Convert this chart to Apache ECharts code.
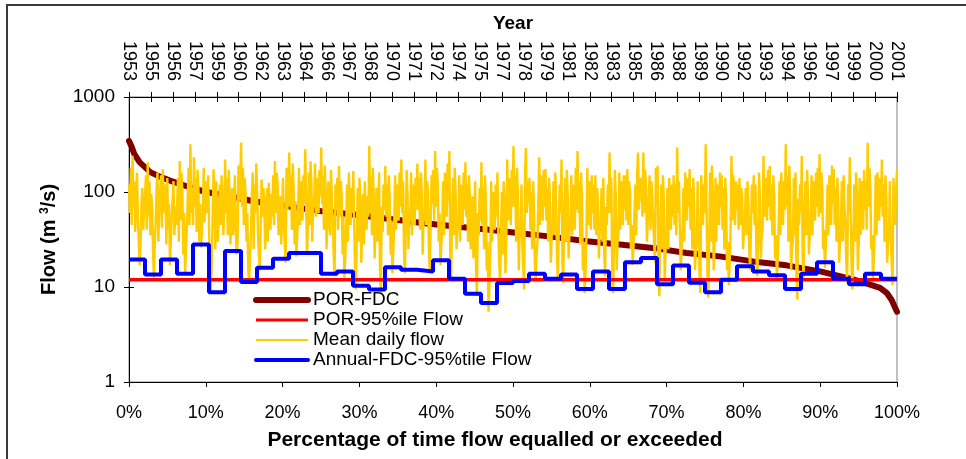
<!DOCTYPE html>
<html>
<head>
<meta charset="utf-8">
<script src="https://cdn.jsdelivr.net/npm/echarts@6/dist/echarts.min.js"></script>
<style>
  html, body { margin: 0; padding: 0; background: #fff; }
  #chart { width: 966px; height: 459px; }
</style>
</head>
<body>
<div id="chart"></div>
<script>
// Year labels on the upper (time) axis, one per tick
const yearLabels = [1953, 1955, 1956, 1957, 1959, 1960, 1962, 1963, 1964, 1966, 1967, 1968,
  1970, 1971, 1972, 1974, 1975, 1977, 1978, 1979, 1981, 1982, 1983, 1985, 1986, 1988,
  1989, 1990, 1992, 1993, 1994, 1996, 1997, 1999, 2000, 2001];

// Period-of-record flow duration curve (percent exceedance, flow m3/s)
const fdcPercent = [0, 0.13, 0.35, 0.7, 1.4, 2.0, 2.77, 4, 5.34, 7.5, 9.6, 11.8, 14, 16.2, 20.5,
  24.9, 29.2, 32.7, 37.9, 42.2, 46.6, 50.9, 55.2, 59.6, 63.9, 68.2, 72.6, 76.9, 81.25, 85.6,
  90, 94.3, 96.5, 97.8, 98.7, 99.3, 99.7, 100];
const fdcFlow = [345, 330, 300, 250, 205, 185, 162, 145, 132, 115, 102, 94, 87, 80, 71,
  63, 58, 53.5, 47.5, 43.7, 40.3, 36.8, 33.7, 30.3, 28, 25.8, 22.8, 21, 18.6, 16.9,
  14.6, 12, 10.6, 9.8, 8.6, 7.3, 6.2, 5.5];

// 95th percentile exceedance flow for the whole record
const por95Flow = 11.9;

// Annual 95%tile flow, one value per water year
const annualFdc95 = [19.5, 13.5, 19.5, 13.8, 28, 8.8, 24, 11.3, 15.9, 19.8, 22.8, 22.8,
  13.8, 14.6, 10.3, 9.4, 16.1, 15.2, 14.6, 19.1, 12.2, 8.5, 6.8, 11.0,
  11.6, 13.8, 12.2, 13.5, 9.5, 14.6, 9.5, 18.2, 20.2, 10.7, 16.8, 11.1,
  8.8, 11.9, 16.5, 14.6, 13.3, 9.5, 13.8, 18.2, 12.2, 10.7, 13.8, 12.2];

// Mean daily flow, sampled through each water year (18 readings per year)
const meanDailyFlow = [
  120, 60, 180, 45, 240, 70, 130, 38, 95, 160, 52, 30, 17, 28, 75, 110, 40, 65,
  90, 150, 40, 206, 55, 130, 35, 95, 70, 24, 12.4, 30, 48, 110, 160, 30, 65, 100,
  150, 42, 173, 60, 120, 95, 28, 140, 40, 75, 17, 30, 55, 85, 130, 35, 70, 45,
  70, 140, 30, 212, 50, 160, 95, 22, 60, 13.5, 25, 40, 90, 180, 45, 318, 60, 110,
  45, 232, 70, 140, 38, 170, 110, 30, 75, 26, 40, 65, 180, 48, 130, 60, 90, 150,
  40, 12, 8.7, 18, 55, 173, 100, 25, 130, 70, 30, 30, 120, 45, 150, 80, 35, 60,
  220, 60, 140, 35, 170, 95, 28, 70, 110, 35, 60, 150, 40, 22, 30, 190, 80, 130,
  331, 70, 180, 45, 140, 100, 30, 60, 15, 11, 20, 38, 90, 160, 25, 120, 60, 200,
  100, 35, 22, 15, 45, 135, 55, 110, 80, 25, 60, 110, 30, 125, 70, 40, 95, 55,
  150, 45, 212, 60, 160, 120, 35, 75, 90, 28, 50, 140, 55, 28, 18, 180, 65, 100,
  260, 70, 150, 40, 200, 110, 28, 80, 21, 35, 60, 180, 45, 130, 95, 50, 150, 75,
  281, 80, 22, 40, 160, 45, 210, 120, 30, 85, 70, 200, 55, 140, 100, 60, 170, 90,
  294, 75, 150, 40, 190, 100, 25, 60, 130, 45, 35, 170, 85, 50, 22, 13, 120, 70,
  140, 40, 188, 55, 130, 90, 22, 55, 12.5, 20, 40, 120, 30, 160, 75, 45, 110, 60,
  166, 45, 16, 9.4, 35, 110, 30, 140, 80, 18, 40, 95, 28, 130, 60, 40, 90, 55,
  305, 60, 150, 35, 180, 90, 20, 45, 110, 30, 45, 160, 15, 8.6, 70, 38, 120, 65,
  188, 55, 120, 35, 150, 85, 22, 50, 14, 24, 45, 150, 40, 120, 90, 50, 160, 70,
  220, 60, 130, 24, 14, 40, 170, 95, 25, 55, 50, 160, 35, 120, 80, 45, 140, 65,
  200, 65, 140, 40, 160, 90, 22, 50, 55, 220, 45, 130, 100, 25, 14, 50, 150, 75,
  170, 50, 270, 70, 180, 120, 30, 60, 17, 28, 45, 130, 35, 160, 90, 55, 200, 80,
  270, 20, 11.5, 60, 140, 35, 180, 100, 25, 45, 40, 150, 30, 120, 80, 45, 160, 65,
  205, 55, 120, 30, 150, 90, 25, 40, 90, 20, 28, 130, 14, 8, 60, 35, 110, 50,
  205, 45, 110, 25, 150, 80, 15, 30, 5.5, 10, 22, 130, 30, 100, 70, 40, 120, 55,
  160, 40, 18, 10.5, 35, 100, 22, 130, 75, 14, 30, 220, 50, 140, 90, 45, 170, 70,
  305, 70, 150, 30, 180, 90, 15, 35, 40, 120, 28, 16, 9.4, 160, 290, 60, 130, 75,
  140, 40, 100, 25, 130, 80, 18, 12, 22, 30, 90, 232, 45, 150, 110, 50, 170, 70,
  175, 50, 110, 30, 140, 85, 18, 35, 40, 130, 35, 160, 75, 20, 11.5, 45, 120, 60,
  220, 18, 11, 55, 140, 30, 170, 90, 20, 40, 45, 150, 35, 120, 80, 40, 180, 65,
  270, 60, 130, 28, 160, 85, 15, 30, 8.6, 14, 35, 180, 45, 130, 95, 40, 150, 60,
  120, 40, 150, 35, 110, 80, 20, 40, 45, 110, 30, 140, 22, 13, 70, 45, 120, 60,
  260, 60, 140, 14, 8.6, 30, 170, 90, 15, 30, 35, 160, 40, 130, 85, 45, 150, 65,
  150, 50, 175, 45, 130, 100, 25, 45, 17, 28, 60, 120, 35, 160, 260, 65, 140, 80,
  140, 55, 260, 60, 170, 110, 30, 50, 50, 150, 40, 130, 90, 50, 30, 18, 180, 75,
  188, 14, 8, 45, 120, 25, 150, 80, 12, 25, 30, 110, 25, 140, 60, 40, 120, 55,
  150, 45, 120, 35, 294, 60, 130, 40, 15, 25, 40, 110, 30, 160, 80, 50, 140, 70,
  175, 40, 110, 25, 140, 80, 15, 25, 30, 130, 35, 15, 8.6, 150, 90, 45, 120, 60,
  318, 65, 14, 7.7, 35, 160, 30, 190, 100, 15, 30, 140, 30, 120, 80, 45, 160, 70,
  150, 40, 110, 25, 140, 85, 15, 30, 10.5, 18, 40, 239, 50, 150, 100, 45, 130, 65,
  120, 40, 140, 45, 110, 90, 25, 40, 50, 110, 35, 130, 75, 24, 15, 45, 120, 60,
  150, 45, 120, 22, 13, 30, 160, 90, 20, 35, 40, 239, 55, 140, 100, 50, 170, 70,
  188, 50, 120, 35, 150, 90, 20, 35, 12, 20, 45, 130, 35, 160, 80, 45, 130, 65,
  318, 70, 150, 30, 190, 100, 15, 25, 30, 140, 35, 160, 13, 7.4, 85, 45, 120, 60,
  239, 20, 12.5, 60, 130, 35, 170, 90, 22, 35, 45, 150, 35, 130, 80, 50, 160, 70,
  180, 55, 250, 60, 160, 110, 25, 40, 16, 26, 50, 120, 35, 150, 90, 45, 190, 75,
  175, 45, 110, 30, 140, 80, 18, 30, 40, 130, 30, 150, 70, 45, 18, 11, 120, 60,
  232, 55, 16, 9.4, 35, 120, 30, 160, 90, 15, 30, 140, 35, 130, 80, 40, 170, 65,
  130, 40, 330, 70, 180, 120, 25, 35, 11.5, 20, 40, 150, 35, 160, 90, 50, 140, 70,
  220, 55, 120, 30, 150, 85, 18, 30, 35, 130, 30, 18, 10.5, 140, 70, 45, 110, 170
];

const FONT = '"Liberation Sans", Arial, sans-serif';
const nYears = annualFdc95.length;

const fdcData = fdcPercent.map((p, i) => [p, fdcFlow[i]]);
const porData = [[0, por95Flow], [100, por95Flow]];
const dailyData = meanDailyFlow.map((v, j) => [j * nYears / (meanDailyFlow.length - 1), v]);
const annualData = annualFdc95.map((v, i) => [i, v]);
annualData.push([nYears, annualFdc95[nYears - 1]]);

const black = '#000';
const chart = echarts.init(document.getElementById('chart'), null, { renderer: 'canvas' });

chart.setOption({
  animation: false,
  backgroundColor: '#fff',
  textStyle: { fontFamily: FONT },
  grid: {
    left: 129, right: 69, top: 97, bottom: 77,
    show: true, borderColor: '#808080', borderWidth: 1, backgroundColor: '#fff'
  },
  graphic: [{
    type: 'rect', silent: true, z: -10,
    shape: { x: 7, y: 5, width: 1000, height: 500 },
    style: { fill: 'none', stroke: '#3a3a3a', lineWidth: 2 }
  }],
  legend: {
    orient: 'vertical', left: 253, top: 290, padding: 0,
    itemWidth: 52, itemHeight: 14, itemGap: 0,
    itemStyle: { opacity: 0 },
    textStyle: { fontSize: 19, color: black, fontFamily: FONT, lineHeight: 20 },
    data: [
      { name: 'POR-FDC', lineStyle: { width: 6, cap: 'round' } },
      { name: 'POR-95%ile Flow', lineStyle: { width: 3 } },
      { name: 'Mean daily flow', lineStyle: { width: 2 } },
      { name: 'Annual-FDC-95%tile Flow', lineStyle: { width: 4, cap: 'round' } }
    ]
  },
  xAxis: [
    {
      type: 'value', position: 'bottom', min: 0, max: 100, interval: 10,
      axisLine: { show: true, lineStyle: { color: black, width: 1 } },
      axisTick: { show: true, length: 5, lineStyle: { color: black } },
      splitLine: { show: false },
      axisLabel: { formatter: '{value}%', fontSize: 18, color: black, margin: 22, fontFamily: FONT },
      name: 'Percentage of time flow equalled or exceeded',
      nameLocation: 'middle', nameGap: 48,
      nameTextStyle: { fontSize: 21, fontWeight: 'bold', color: black, fontFamily: FONT, padding: [0, 36, 0, 0] }
    },
    {
      type: 'value', position: 'top', min: 0, max: yearLabels.length - 1, interval: 1,
      axisLine: { show: true, lineStyle: { color: black, width: 1 } },
      axisTick: { show: true, length: 5, lineStyle: { color: black } },
      splitLine: { show: false },
      axisLabel: {
        rotate: 90, fontSize: 18, color: black, margin: 16, fontFamily: FONT,
        formatter: v => yearLabels[v] === undefined ? '' : String(yearLabels[v])
      },
      name: 'Year', nameLocation: 'middle', nameGap: 62,
      nameTextStyle: { fontSize: 19, fontWeight: 'bold', color: black, fontFamily: FONT }
    },
    {
      type: 'value', position: 'top', min: 0, max: yearLabels.length - 1, interval: 1,
      axisLine: { show: false },
      axisTick: { show: true, inside: true, length: 5, lineStyle: { color: black } },
      axisLabel: { show: false }, splitLine: { show: false }
    },
    { type: 'value', position: 'top', min: 0, max: nYears, show: false }
  ],
  yAxis: [
    {
      type: 'log', logBase: 10, min: 1, max: 1000, position: 'left',
      axisLine: { show: true, lineStyle: { color: black, width: 1 } },
      axisTick: { show: true, length: 5, lineStyle: { color: black } },
      splitLine: { show: false },
      axisLabel: { fontSize: 19, color: black, margin: 14, fontFamily: FONT, formatter: v => String(v) },
      name: 'Flow (m {sup|3}/s)', nameLocation: 'middle', nameGap: 70,
      nameTextStyle: {
        fontSize: 20, fontWeight: 'bold', color: black, fontFamily: FONT,
        rich: { sup: { fontSize: 12, fontWeight: 'bold', color: black, verticalAlign: 'top', lineHeight: 12, padding: [0, 0, 8, 0] } }
      }
    },
    {
      type: 'log', logBase: 10, min: 1, max: 1000, position: 'left',
      axisLine: { show: false },
      axisTick: { show: true, inside: true, length: 5, lineStyle: { color: black } },
      axisLabel: { show: false }, splitLine: { show: false }
    }
  ],
  series: [
    {
      name: 'POR-FDC', type: 'line', xAxisIndex: 0, yAxisIndex: 0,
      data: fdcData, showSymbol: false, symbol: 'none',
      lineStyle: { color: '#800000', width: 6, cap: 'round' }, itemStyle: { color: '#800000' }
    },
    {
      name: 'Mean daily flow', type: 'line', xAxisIndex: 3, yAxisIndex: 0,
      data: dailyData, showSymbol: false, symbol: 'none',
      lineStyle: { color: '#FFCC00', width: 2.4 }, itemStyle: { color: '#FFCC00' }
    },
    {
      name: 'POR-95%ile Flow', type: 'line', xAxisIndex: 0, yAxisIndex: 0,
      data: porData, showSymbol: false, symbol: 'none',
      lineStyle: { color: '#FF0000', width: 3.5 }, itemStyle: { color: '#FF0000' }
    },
    {
      name: 'Annual-FDC-95%tile Flow', type: 'line', xAxisIndex: 3, yAxisIndex: 0,
      data: annualData, step: 'end', showSymbol: false, symbol: 'none',
      lineStyle: { color: '#0000FF', width: 4 }, itemStyle: { color: '#0000FF' }
    }
  ]
});
</script>
</body>
</html>
